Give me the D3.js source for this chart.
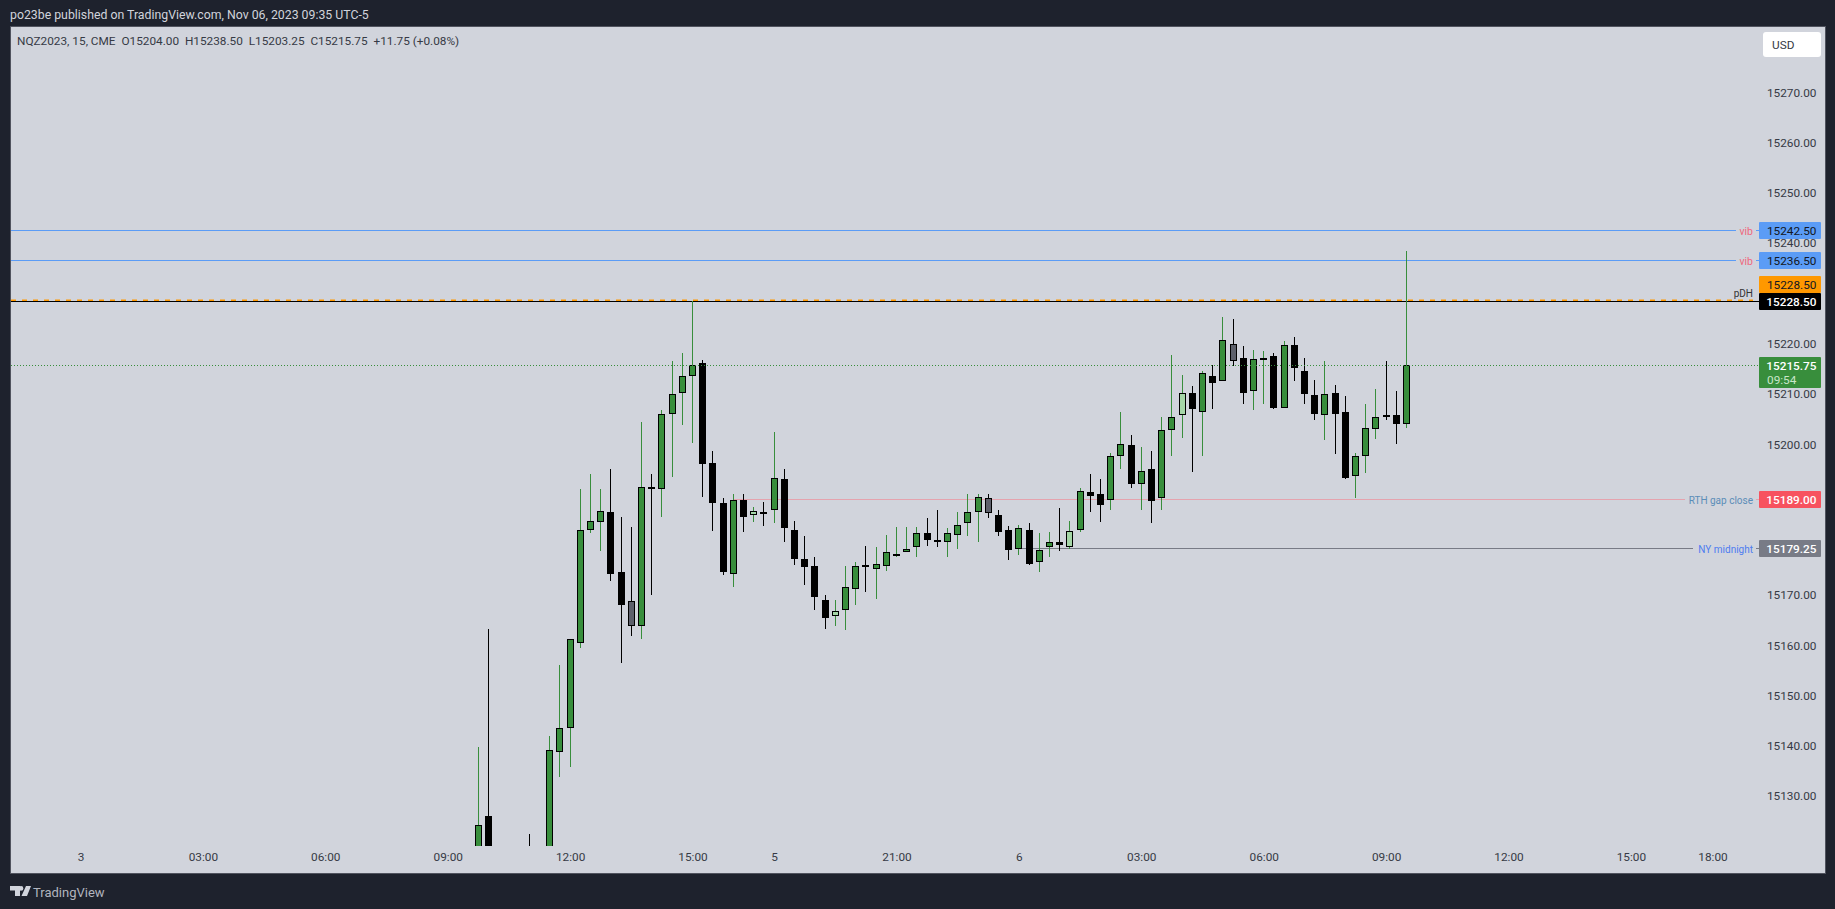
<!DOCTYPE html>
<html>
<head>
<meta charset="utf-8">
<title>NQZ2023</title>
<script src="https://cdn.jsdelivr.net/npm/d3@7"></script>
<style>
  html, body { margin: 0; padding: 0; background: #1e222d; overflow: hidden; }
  svg { display: block; }
  text { font-family: Roboto, "Liberation Sans", sans-serif; }
</style>
</head>
<body>
<div id="chart"></div>
<script>
// Bar slots on the time axis (15 minute bars, weekend removed).
const slots = [39, 40, 44];
for (let s = 46; s <= 130; s++) slots.push(s);

const opens = [15118, 15126, 15116, 15112, 15138.75, 15143.5, 15160.5, 15183, 15184.5, 15186.5, 15174.5, 15168.75, 15163.75, 15191.5, 15191, 15206, 15210.25, 15213.5, 15216.25, 15196.25, 15188.25, 15174.25, 15189, 15186, 15186.5, 15187, 15193, 15183, 15177.25, 15175.75, 15169, 15165.75, 15167, 15171.25, 15176, 15175.25, 15175.75, 15178.25, 15178.5, 15179.5, 15182.25, 15181, 15180.5, 15182, 15184.25, 15186.5, 15189.25, 15186, 15183, 15179.25, 15183, 15176.5, 15179.5, 15180.5, 15179.5, 15183, 15190.5, 15190, 15189, 15197.75, 15199.75, 15192, 15195, 15189.25, 15202.75, 15205.75, 15210.25, 15206.5, 15213.5, 15212.5, 15220, 15217.25, 15210.5, 15217.25, 15217.5, 15207.25, 15219.75, 15214.5, 15209.75, 15205.75, 15210.25, 15206.5, 15193.75, 15197.75, 15203, 15205.75, 15205.75, 15204];
const highs = [15139.75, 15163.25, 15122.5, 15142, 15156, 15161.25, 15191, 15194, 15191, 15195, 15185.5, 15183.5, 15204.5, 15194, 15206.75, 15216.5, 15218.25, 15228.5, 15216.75, 15198.75, 15189.25, 15190, 15190, 15187.5, 15188.5, 15202.5, 15195, 15184.75, 15181.75, 15177.5, 15170, 15169, 15175.75, 15176.5, 15179.75, 15179.5, 15182, 15183.5, 15183.5, 15183.5, 15185.25, 15187, 15183.25, 15186.5, 15190, 15190, 15190, 15187, 15183.75, 15184, 15184.25, 15182.25, 15182.5, 15187.25, 15184.75, 15191.25, 15194, 15193, 15198.25, 15206.5, 15201.75, 15199.5, 15198.75, 15205.5, 15217.75, 15213.75, 15211.5, 15214.5, 15215.75, 15225.25, 15225, 15219.5, 15218.75, 15218.5, 15218.25, 15220.5, 15221.25, 15217.25, 15212.75, 15216.5, 15211.75, 15209.5, 15198.25, 15208, 15211, 15216.5, 15210.5, 15238.5];
const lows = [15110, 15115, 15112, 15110, 15133.75, 15135.75, 15159.5, 15182.25, 15178.75, 15172.75, 15156.5, 15161.75, 15161.25, 15170, 15185.5, 15193.5, 15203.75, 15200.25, 15189.5, 15182.75, 15174, 15171.5, 15182.5, 15184.5, 15183.75, 15184.25, 15180.5, 15176, 15172, 15167, 15163.25, 15163.75, 15163, 15168, 15170.5, 15169.25, 15174.75, 15177.5, 15178.5, 15177.5, 15179.75, 15179.5, 15177.5, 15179.25, 15181.75, 15180.5, 15185.25, 15181.75, 15177, 15178, 15176, 15174.5, 15177.5, 15178.75, 15179.25, 15182.5, 15186.5, 15184.5, 15187, 15195, 15191.25, 15187, 15184.25, 15187, 15197.75, 15201.25, 15194.5, 15197.75, 15207, 15212.5, 15215.5, 15208, 15206.75, 15208, 15207, 15207.25, 15212.5, 15208, 15204.75, 15200.75, 15198, 15193, 15189.25, 15194.25, 15201, 15204.75, 15200, 15203.25];
const closes = [15124.25, 15118, 15114, 15139.25, 15143.5, 15161.25, 15183, 15184.75, 15186.75, 15174.25, 15168, 15163.75, 15191.5, 15191, 15206, 15210, 15213.5, 15215.75, 15196, 15188.25, 15174.5, 15189, 15185.5, 15186.75, 15186.25, 15193.25, 15183.25, 15177.25, 15175.5, 15169.5, 15165.5, 15166.75, 15171.5, 15175.75, 15175.5, 15176.25, 15178.5, 15178.25, 15179.25, 15182.25, 15181, 15180.5, 15182.25, 15184, 15186.5, 15189.5, 15186.25, 15182.5, 15179, 15183.25, 15176.25, 15179, 15180.5, 15180, 15182.75, 15190.75, 15189.75, 15188, 15197.75, 15200, 15192, 15194.75, 15188.75, 15202.75, 15205.5, 15210.25, 15207, 15214.25, 15212.25, 15220.75, 15216.5, 15210.25, 15217, 15217.25, 15207.25, 15219.75, 15215.25, 15210, 15206, 15210, 15206, 15193.25, 15197.75, 15203.25, 15205.5, 15205.5, 15204, 15215.75];

// Body shades TradingView used for a few of the bars.
const lightBars = [66, 74, 97, 108];
const greyBars = [54, 89, 113];

const timeSlots = [0, 12, 24, 36, 48, 60, 68, 80, 92, 104, 116, 128, 140, 152, 160];
const timeLabels = ["3", "03:00", "06:00", "09:00", "12:00", "15:00", "5", "21:00", "6", "03:00", "06:00", "09:00", "12:00", "15:00", "18:00"];
const priceTicks = [15130, 15140, 15150, 15160, 15170, 15180, 15190, 15200, 15210, 15220, 15230, 15240, 15250, 15260, 15270];

const levelNames = ["vib", "vib", "pDH", "RTH gap close", "NY midnight"];
const levelPrices = [15242.5, 15236.5, 15228.5, 15189, 15179.25];
const levelStarts = [null, null, null, 64, 92];
const levelLineColors = ["#5b9cf6", "#5b9cf6", "#000000", "#e5a3ae", "#787b86"];
const levelTextColors = ["#f0687c", "#f0687c", "#333333", "#5b8db8", "#4d7cf0"];
const levelBoxColors = ["#5b9cf6", "#5b9cf6", "#000000", "#f7525f", "#787b86"];
const levelBoxText = ["#131722", "#131722", "#ffffff", "#ffffff", "#ffffff"];

const width = 1835, height = 909;
const panel = { left: 11, top: 27, right: 1825, bottom: 873 };
const plotBottom = 846;
const boxLeft = 1759, boxW = 62, boxH = 17;
const fontSize = 11.8;

const x = d3.scaleLinear().domain([0, 160]).range([80.5, 1712.5]);
const y = d3.scaleLinear().domain([15228.5, 15179.25]).range([301, 548.5]);
const px = (d) => Math.floor(x(d)) + 0.5;

const svg = d3.select("#chart").append("svg").attr("width", width).attr("height", height);

// Page frame.
svg.append("text").attr("x", 10).attr("y", 19).attr("fill", "#d1d4dc").attr("font-size", 12.3)
  .text("po23be published on TradingView.com, Nov 06, 2023 09:35 UTC-5");
svg.append("rect").attr("x", panel.left - 0.5).attr("y", panel.top - 0.5)
  .attr("width", panel.right - panel.left + 1).attr("height", panel.bottom - panel.top + 1)
  .attr("fill", "#d1d4dc").attr("stroke", "#50535e");

svg.append("defs").append("clipPath").attr("id", "plot").append("rect")
  .attr("x", panel.left).attr("y", panel.top)
  .attr("width", panel.right - panel.left).attr("height", plotBottom - panel.top);

// Price scale.
const yAxis = svg.append("g").attr("transform", "translate(1816.5,0)")
  .call(d3.axisLeft(y).tickValues(priceTicks).tickSize(0).tickPadding(0).tickFormat(d3.format(".2f")));
yAxis.select(".domain").remove();
yAxis.selectAll("text").attr("fill", "#363a45").attr("font-size", fontSize).style("font-family", "Roboto");

// Time scale.
const xAxis = svg.append("g").attr("transform", "translate(0,853)")
  .call(d3.axisBottom(x).tickValues(timeSlots).tickSize(0).tickPadding(0).tickFormat((d, i) => timeLabels[i]));
xAxis.select(".domain").remove();
xAxis.selectAll("text").attr("fill", "#363a45").attr("font-size", fontSize).style("font-family", "Roboto");

const marks = svg.append("g").attr("clip-path", "url(#plot)");

// Level lines go under the candles.
levelPrices.forEach((p, i) => {
  const ly = Math.floor(y(p)) + 0.5;
  const startX = levelStarts[i] === null ? panel.left : x(levelStarts[i]);
  if (levelNames[i] === "pDH") {
    marks.append("line").attr("x1", startX).attr("x2", 1753).attr("y1", ly - 1).attr("y2", ly - 1)
      .attr("stroke", "#ff9800").attr("stroke-width", 2).attr("stroke-dasharray", "5 6");
  }
});
svg.append("line").attr("x1", panel.left).attr("x2", boxLeft).attr("y1", 365.5).attr("y2", 365.5)
  .attr("stroke", "#388e3c").attr("stroke-dasharray", "1 2");

const labelW = [16, 16, 0, 67, 59];
levelPrices.forEach((p, i) => {
  const ly = Math.floor(y(p)) + 0.5;
  const startX = levelStarts[i] === null ? panel.left : x(levelStarts[i]);
  const endX = levelNames[i] === "pDH" ? boxLeft : 1753 - labelW[i] - 1;
  marks.append("line").attr("x1", startX).attr("x2", endX).attr("y1", ly).attr("y2", ly)
    .attr("stroke", levelLineColors[i]);
  if (levelNames[i] !== "pDH") {
    marks.append("line").attr("x1", 1756).attr("x2", boxLeft).attr("y1", ly).attr("y2", ly)
      .attr("stroke", levelLineColors[i]);
  }
});

// Candles.
const bars = slots.map((s, i) => ({ s, o: opens[i], h: highs[i], l: lows[i], c: closes[i] }));
const upColor = "#388e3c";
const barColor = (d) => {
  if (lightBars.includes(d.s)) return "#a5d6a7";
  if (greyBars.includes(d.s)) return "#5d606b";
  return d.c >= d.o ? upColor : "#000000";
};

marks.selectAll(".wick").data(bars).join("line")
  .attr("class", "wick")
  .attr("x1", (d) => px(d.s)).attr("x2", (d) => px(d.s))
  .attr("y1", (d) => y(d.h)).attr("y2", (d) => y(d.l))
  .attr("stroke", (d) => (d.c >= d.o ? upColor : "#000000"))
  .attr("shape-rendering", "crispEdges");

marks.selectAll(".body").data(bars).join("rect")
  .attr("class", "body")
  .attr("x", (d) => px(d.s) - 3)
  .attr("width", 6)
  .attr("y", (d) => Math.round(y(Math.max(d.o, d.c))) + 0.5)
  .attr("height", (d) => Math.max(1, Math.round(y(Math.min(d.o, d.c))) - Math.round(y(Math.max(d.o, d.c))) - 1))
  .attr("fill", barColor)
  .attr("stroke", "#000000")
  .attr("shape-rendering", "crispEdges");

// Level captions and price boxes.
levelPrices.forEach((p, i) => {
  const ly = Math.floor(y(p)) + 0.5;
  const size = levelNames[i] === "vib" ? 10.5 : 10;
  svg.append("text").attr("x", 1753).attr("y", levelNames[i] === "pDH" ? ly - 5 : ly + 4)
    .attr("text-anchor", "end").attr("fill", levelTextColors[i]).attr("font-size", size)
    .text(levelNames[i]);
  svg.append("rect").attr("x", boxLeft).attr("y", Math.round(ly - boxH / 2)).attr("width", boxW).attr("height", boxH)
    .attr("rx", 1).attr("fill", levelBoxColors[i]);
  svg.append("text").attr("x", 1816.5).attr("y", ly + 4.5).attr("text-anchor", "end")
    .attr("fill", levelBoxText[i]).attr("font-size", fontSize).attr("font-weight", levelBoxColors[i] === "#5b9cf6" ? 400 : 500)
    .text(d3.format(".2f")(p));
});

// Orange copy of pDH sits above the black one.
svg.append("rect").attr("x", boxLeft).attr("y", 276).attr("width", boxW).attr("height", boxH).attr("rx", 1).attr("fill", "#ff9800");
svg.append("text").attr("x", 1816.5).attr("y", 289).attr("text-anchor", "end").attr("fill", "#131722").attr("font-size", fontSize).text("15228.50");

// Last price box with countdown.
svg.append("rect").attr("x", boxLeft).attr("y", 357).attr("width", boxW).attr("height", 31).attr("rx", 1).attr("fill", upColor);
svg.append("text").attr("x", 1816.5).attr("y", 370).attr("text-anchor", "end").attr("fill", "#ffffff").attr("font-size", fontSize).attr("font-weight", 500).text("15215.75");
svg.append("text").attr("x", 1767).attr("y", 384).attr("fill", "#c8e6c9").attr("font-size", fontSize).text("09:54");

// Legend and currency button.
svg.append("text").attr("x", 17).attr("y", 45).attr("fill", "#363a45").attr("font-size", fontSize).attr("xml:space", "preserve")
  .text("NQZ2023, 15, CME  O15204.00  H15238.50  L15203.25  C15215.75  +11.75 (+0.08%)");
svg.append("rect").attr("x", 1763).attr("y", 32).attr("width", 58).attr("height", 25).attr("rx", 3).attr("fill", "#ffffff");
svg.append("text").attr("x", 1772).attr("y", 49).attr("fill", "#363a45").attr("font-size", fontSize).text("USD");

// TradingView mark.
svg.append("path").attr("fill", "#d1d4dc")
  .attr("d", "M10 886h10v10h-5v-5.5h-5zM26 886h5l-4 10h-5.5zM21 886a2.4 2.4 0 1 1 0 4.8a2.4 2.4 0 1 1 0-4.8z");
svg.append("text").attr("x", 33).attr("y", 897).attr("fill", "#b2b5be").attr("font-size", 13).text("TradingView");
</script>
</body>
</html>
